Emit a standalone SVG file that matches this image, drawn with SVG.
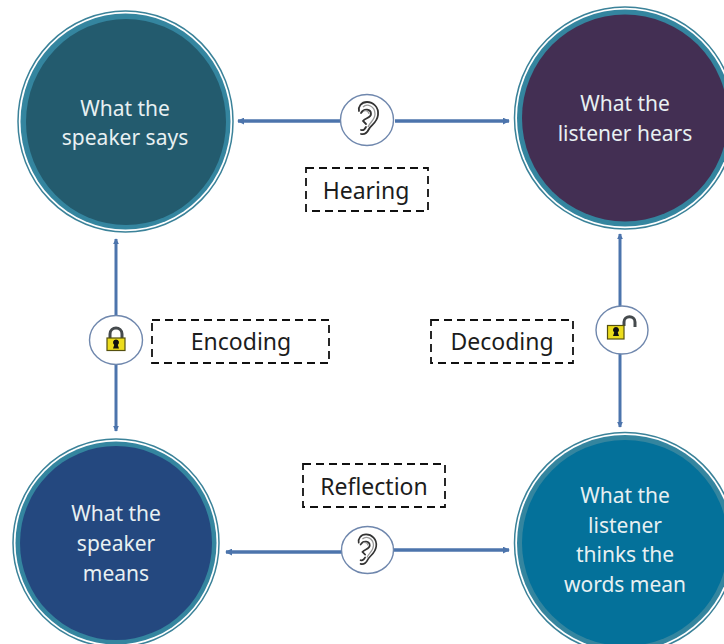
<svg xmlns="http://www.w3.org/2000/svg" width="724" height="644" viewBox="0 0 724 644">
<style>
text{font-family:"Noto Sans","Open Sans","Liberation Sans",sans-serif}
.t{font-size:21px;fill:#e8f0f2;text-anchor:middle}
.l{font-size:23px;fill:#1c1c1c;text-anchor:middle}
.d{fill:none;stroke:#111;stroke-width:1.8;stroke-dasharray:8 5}
.c{fill:none;stroke:#4c74ac;stroke-width:3.5}
.c2{fill:none;stroke:#4c74ac;stroke-width:3}
.b{fill:#fff;stroke:#6f87ad;stroke-width:1.4}
.o{fill:#fff;stroke:#3b8299;stroke-width:1.5}
.r{fill:#34859f}
.e1{fill:none;stroke:#333;stroke-width:1.8;stroke-linecap:round}
.e2{fill:none;stroke:#999;stroke-width:1.3}
.s{fill:none;stroke:#454a4d;stroke-width:3}
.k{fill:#ecdc1c;stroke:#55500f;stroke-width:1.2}
</style>
<defs>
<marker id="a" viewBox="0 0 8 8" refX="7" refY="4" markerWidth="2" markerHeight="2" orient="auto"><path d="M0 0L8 4L0 8Z" fill="#4c74ac"/></marker>
<g id="ear">
<path class="e1" d="M-7 14C-3 15 -1 13 1 9C3 5 9 3 10 -5C11 -13 5 -18 -1 -18C-7 -18 -10 -13 -9 -9"/>
<path class="e2" d="M-5 -13C-1 -17 7 -14 7 -6C7 0 2 2 0 7"/>
<path class="e1" d="M-7 -7C-4 -12 3 -11 3 -6C3 -2 -3 -2 -5 1L-2 4"/>
<path class="e2" d="M-4 -9C-1 -10 1 -8 1 -6"/>
<path class="e1" d="M-7 10C-4 11 -3 9 -2 7"/>
</g>
</defs>
<g id="connectors">
<path class="c" marker-end="url(#a)" d="M341 121H238"/>
<path class="c" marker-end="url(#a)" d="M395 121H509"/>
<path class="c" marker-end="url(#a)" d="M342 552H226"/>
<path class="c" marker-end="url(#a)" d="M393 550H509"/>
<path class="c2" marker-end="url(#a)" d="M116 317V239"/>
<path class="c2" marker-end="url(#a)" d="M116 364V431"/>
<path class="c2" marker-end="url(#a)" d="M620 307V234"/>
<path class="c2" marker-end="url(#a)" d="M620 353V427"/>
</g>
<g id="speaker-says">
<ellipse class="o" cx="125.500" cy="121.500" rx="107.500" ry="110.500"/>
<ellipse class="r" cx="125.500" cy="121.500" rx="105" ry="108"/>
<ellipse cx="126" cy="122" rx="100" ry="103" fill="#235b6e"/>
<text class="t" x="125" y="116">What the</text>
<text class="t" x="125" y="145">speaker says</text>
</g>
<g id="listener-hears">
<ellipse class="o" cx="625" cy="118" rx="110.500" ry="111"/>
<ellipse class="r" cx="625" cy="118" rx="108" ry="108.500"/>
<ellipse cx="625" cy="118" rx="103" ry="103.500" fill="#432f53"/>
<text class="t" x="625" y="111">What the</text>
<text class="t" x="625" y="141">listener hears</text>
</g>
<g id="speaker-means">
<ellipse class="o" cx="116" cy="543" rx="103" ry="104"/>
<ellipse class="r" cx="116" cy="543" rx="100.500" ry="101.500"/>
<ellipse cx="116" cy="543" rx="96" ry="97" fill="#24487f"/>
<text class="t" x="116" y="521">What the</text>
<text class="t" x="116" y="551">speaker</text>
<text class="t" x="116" y="581">means</text>
</g>
<g id="listener-thinks">
<circle class="o" cx="625" cy="543" r="110.500"/>
<circle class="r" cx="625" cy="543" r="108"/>
<circle cx="625" cy="543" r="103" fill="#04719a"/>
<text class="t" x="625" y="503">What the</text>
<text class="t" x="625" y="533">listener</text>
<text class="t" x="625" y="562">thinks the</text>
<text class="t" x="625" y="592">words mean</text>
</g>
<g id="hearing-label">
<rect class="d" x="306" y="168" width="122" height="43"/>
<text class="l" x="366" y="199">Hearing</text>
</g>
<g id="encoding-label">
<rect class="d" x="152" y="320" width="177" height="43"/>
<text class="l" x="241" y="350">Encoding</text>
</g>
<g id="decoding-label">
<rect class="d" x="431" y="320" width="142" height="43"/>
<text class="l" x="502" y="350">Decoding</text>
</g>
<g id="reflection-label">
<rect class="d" x="303" y="464" width="142" height="43"/>
<text class="l" x="374" y="495">Reflection</text>
</g>
<g id="ear-top">
<ellipse class="b" cx="367" cy="120" rx="26.500" ry="25.500"/>
<use href="#ear" x="368" y="120"/>
</g>
<g id="ear-bottom">
<ellipse class="b" cx="367.500" cy="550" rx="26" ry="23.500"/>
<use href="#ear" transform="translate(367 551) scale(.92)"/>
</g>
<g id="lock-closed">
<ellipse class="b" cx="116" cy="340" rx="26.500" ry="24.500"/>
<path class="s" d="M110 338V334C110 326 122 326 122 334V338"/>
<rect class="k" x="107" y="338" width="18" height="12.500"/>
<path d="M116 339.500a3 3 0 0 1 1.800 5.400l1.200 3.600h-6l1.200-3.600a3 3 0 0 1 1.800-5.400z" fill="#111"/>
</g>
<g id="lock-open">
<ellipse class="b" cx="622" cy="330" rx="26" ry="24"/>
<path class="s" d="M624 326V322C624 315 635 315 635 322V327"/>
<rect class="k" x="607.500" y="325.500" width="16.500" height="13.500"/>
<path d="M616 327a3 3 0 0 1 1.800 5.400l1.200 3.600h-6l1.200-3.600a3 3 0 0 1 1.800-5.400z" fill="#111"/>
</g>
</svg>
